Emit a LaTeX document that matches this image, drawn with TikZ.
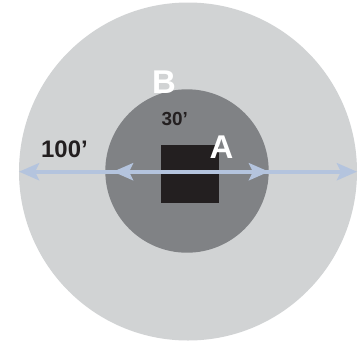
\documentclass[tikz,border=0pt]{standalone}
\usepackage{fontspec}
\setmainfont{Liberation Sans}
\usetikzlibrary{arrows.meta}
\definecolor{outergray}{RGB}{209,211,212}
\definecolor{innergray}{RGB}{128,130,133}
\definecolor{boxblack}{RGB}{35,31,32}
\definecolor{arrowblue}{RGB}{180,196,222}
\begin{document}
\begin{tikzpicture}[x=1bp,y=-1bp,
  dimarrow/.style={draw=arrowblue,line width=4bp,
    {Stealth[length=20bp,width=17bp,inset=4bp]}-{Stealth[length=20bp,width=17bp,inset=4bp]}},
  whitelabel/.style={font=\bfseries\fontsize{33}{33}\selectfont,text=white,inner sep=0pt,anchor=base west},
  darklabel/.style={font=\bfseries,text=boxblack,inner sep=0pt,anchor=base west}]
\useasboundingbox (0,0) rectangle (360,343);
\node[circle,fill=outergray,minimum size=338bp,inner sep=0pt] (outer) at (188,171.5) {};
\node[circle,fill=innergray,minimum size=163.4bp,inner sep=0pt] (inner) at (187,171) {};
\node[fill=boxblack,minimum width=58bp,minimum height=57.7bp,inner sep=0pt] (site) at (190,173.8) {};
\coordinate (oL) at (19,171.7);
\coordinate (oR) at (357,171.7);
\coordinate (iL) at (113,171.7);
\coordinate (iR) at (269,171.7);
\draw[dimarrow] (oL) -- (oR);
\draw[dimarrow] (iL) -- (iR);
\node[whitelabel] (B) at (152,93.3) {B};
\node[whitelabel] (A) at (209.5,158.3) {A};
\node[darklabel,font=\bfseries\fontsize{19}{19}\selectfont] (r30) at (161.5,125.7) {30’};
\node[darklabel,font=\bfseries\fontsize{24}{24}\selectfont] (r100) at (41,157.2) {100’};
\end{tikzpicture}
\end{document}
